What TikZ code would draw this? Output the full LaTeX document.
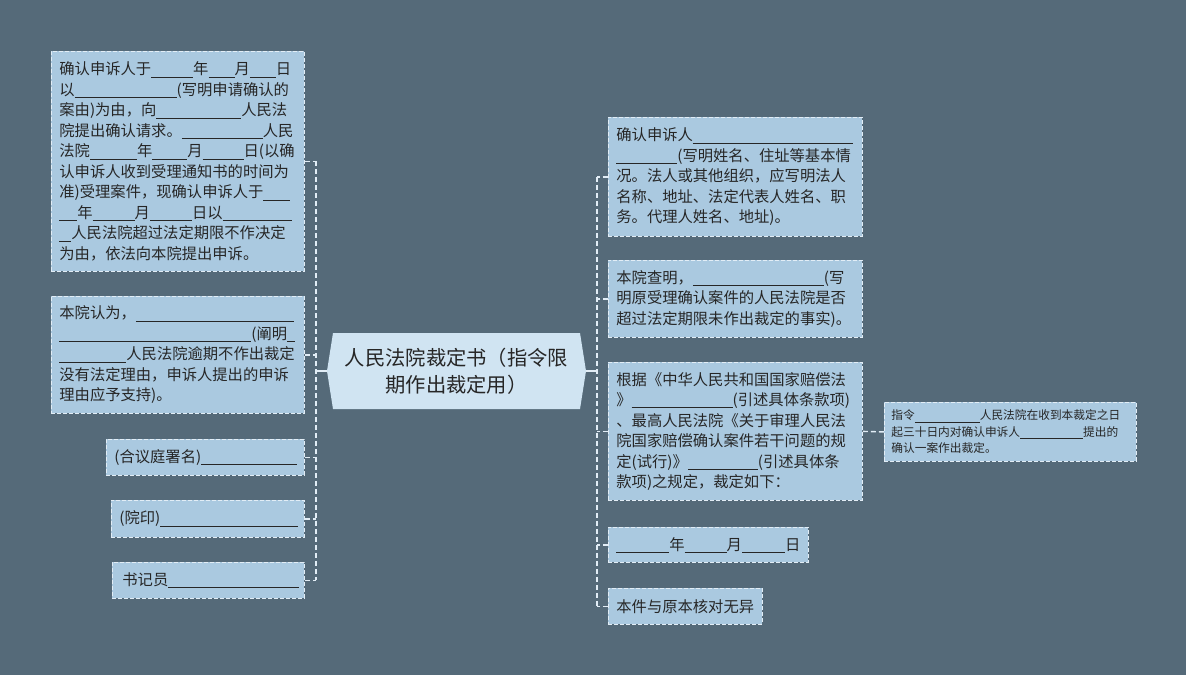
\documentclass[tikz,border=0pt]{standalone}
\usepackage{fontspec}
\setmainfont{Noto Sans CJK SC}
\usepackage{tikz}
\usetikzlibrary{calc}

\definecolor{bgcol}{RGB}{85,106,121}
\definecolor{leaffill}{RGB}{170,201,224}
\definecolor{leafline}{RGB}{226,237,246}
\definecolor{rootfill}{RGB}{208,228,242}
\definecolor{inkcol}{RGB}{38,38,38}

\newcommand{\blank}[1]{\rule[-2.5pt]{#1pt}{0.7pt}}

\begin{document}
\begin{tikzpicture}[x=1pt, y=-1pt,
    leaf/.style={draw=leafline, dash pattern=on 4pt off 2pt, line width=0.8pt, fill=leaffill, text=inkcol,
      anchor=north west, align=left, inner xsep=8pt, inner ysep=0pt,
      font=\fontsize{15.3}{20.5}\selectfont},
    small/.style={leaf, font=\fontsize{11.7}{16.5}\selectfont, inner xsep=7pt},
    link/.style={draw=leafline, line width=1.4pt, dash pattern=on 5pt off 3pt},
    stem/.style={draw=leafline, line width=1.2pt},
    roottext/.style={text=inkcol, align=center, inner sep=0pt, minimum width=259pt,
      minimum height=76pt, font=\fontsize{20.3}{27}\selectfont}]
            \useasboundingbox (0,0) rectangle (1186,675);
            \fill[bgcol] (0,0) rectangle (1186,675);

            % centre
            \fill[rootfill] (327,371) -- (333,333) -- (580,333) -- (586,371) -- (580,409) -- (333,409) -- cycle;
            \node[roottext] (root) at (456.5,371) {人民法院裁定书（指令限\\期作出裁定用）};

            % left side
            \node[leaf, text width=237pt, minimum height=220pt] (lb1) at (51,51)
              {确认申诉人于\blank{42}年\blank{26}月\blank{26}日\\
               以\blank{102}(写明申请确认的\\
               案由)为由，向\blank{85}人民法\\
               院提出确认请求。\blank{81}人民\\
               法院\blank{47}年\blank{35}月\blank{41}日(以确\\
               认申诉人收到受理通知书的时间为\\
               准)受理案件，现确认申诉人于\blank{27}\\
               \blank{18}年\blank{42}月\blank{42}日以\blank{69}\\
               \blank{12}人民法院超过法定期限不作决定\\
               为由，依法向本院提出申诉。};
            \node[leaf, text width=237pt, minimum height=117pt] (lb2) at (51,296)
              {本院认为，\blank{158}\\
               \blank{192}(阐明\blank{8}\\
               \blank{67}人民法院逾期不作出裁定\\
               没有法定理由，申诉人提出的申诉\\
               理由应予支持)。};
            \node[leaf, text width=182pt, minimum height=36pt] (lb3) at (106,439) {(合议庭署名)\blank{96}};
            \node[leaf, text width=177pt, minimum height=37pt] (lb4) at (111,500) {(院印)\blank{138}};
            \node[leaf, text width=172pt, minimum height=36pt, inner xsep=10pt] (lb5) at (112,562) {书记员\blank{131}};

            % right side
            \node[leaf, text width=238pt, minimum height=119pt] (rb1) at (608,117)
              {确认申诉人\blank{160}\\
               \blank{61}(写明姓名、住址等基本情\\
               况。法人或其他组织，应写明法人\\
               名称、地址、法定代表人姓名、职\\
               务。代理人姓名、地址)。};
            \node[leaf, text width=238pt, minimum height=77pt] (rb2) at (608,260)
              {本院查明，\blank{131}(写\\
               明原受理确认案件的人民法院是否\\
               超过法定期限未作出裁定的事实)。};
            \node[leaf, text width=238pt, minimum height=138pt] (rb3) at (608,362)
              {根据《中华人民共和国国家赔偿法\\
               》\blank{101}(引述具体条款项)\\
               、最高人民法院《关于审理人民法\\
               院国家赔偿确认案件若干问题的规\\
               定(试行)》\blank{70}(引述具体条\\
               款项)之规定，裁定如下：};
            \node[leaf, text width=184pt, minimum height=35pt] (rb4) at (608,527)
              {\blank{53}年\blank{42}月\blank{43}日};
            \node[leaf, text width=138pt, minimum height=36pt] (rb5) at (608,588) {本件与原本核对无异};
            \node[small, text width=238pt, minimum height=59pt] (fb) at (884,402)
              {指令\blank{65}人民法院在收到本裁定之日\\
               起三十日内对确认申诉人\blank{63}提出的\\
               确认一案作出裁定。};

            % connectors
            \coordinate (lt) at (316,0);
            \coordinate (rt) at (597,0);
            \draw[link] (lb1.east -| lt) -- (lb5.east -| lt);
            \foreach \n in {lb1,lb2,lb3,lb4,lb5}
              \draw[link] (\n.east) -- (\n.east -| lt);
            \draw[stem] (root.west) -- (root.west -| lt);
            \draw[link] (rb1.west -| rt) -- (rb5.west -| rt);
            \foreach \n in {rb1,rb2,rb3,rb4,rb5}
              \draw[link] (\n.west) -- (\n.west -| rt);
            \draw[stem] (root.east) -- (root.east -| rt);
            \draw[link] (rb3.east) -- (fb.west);
          \end{tikzpicture}
\end{document}
